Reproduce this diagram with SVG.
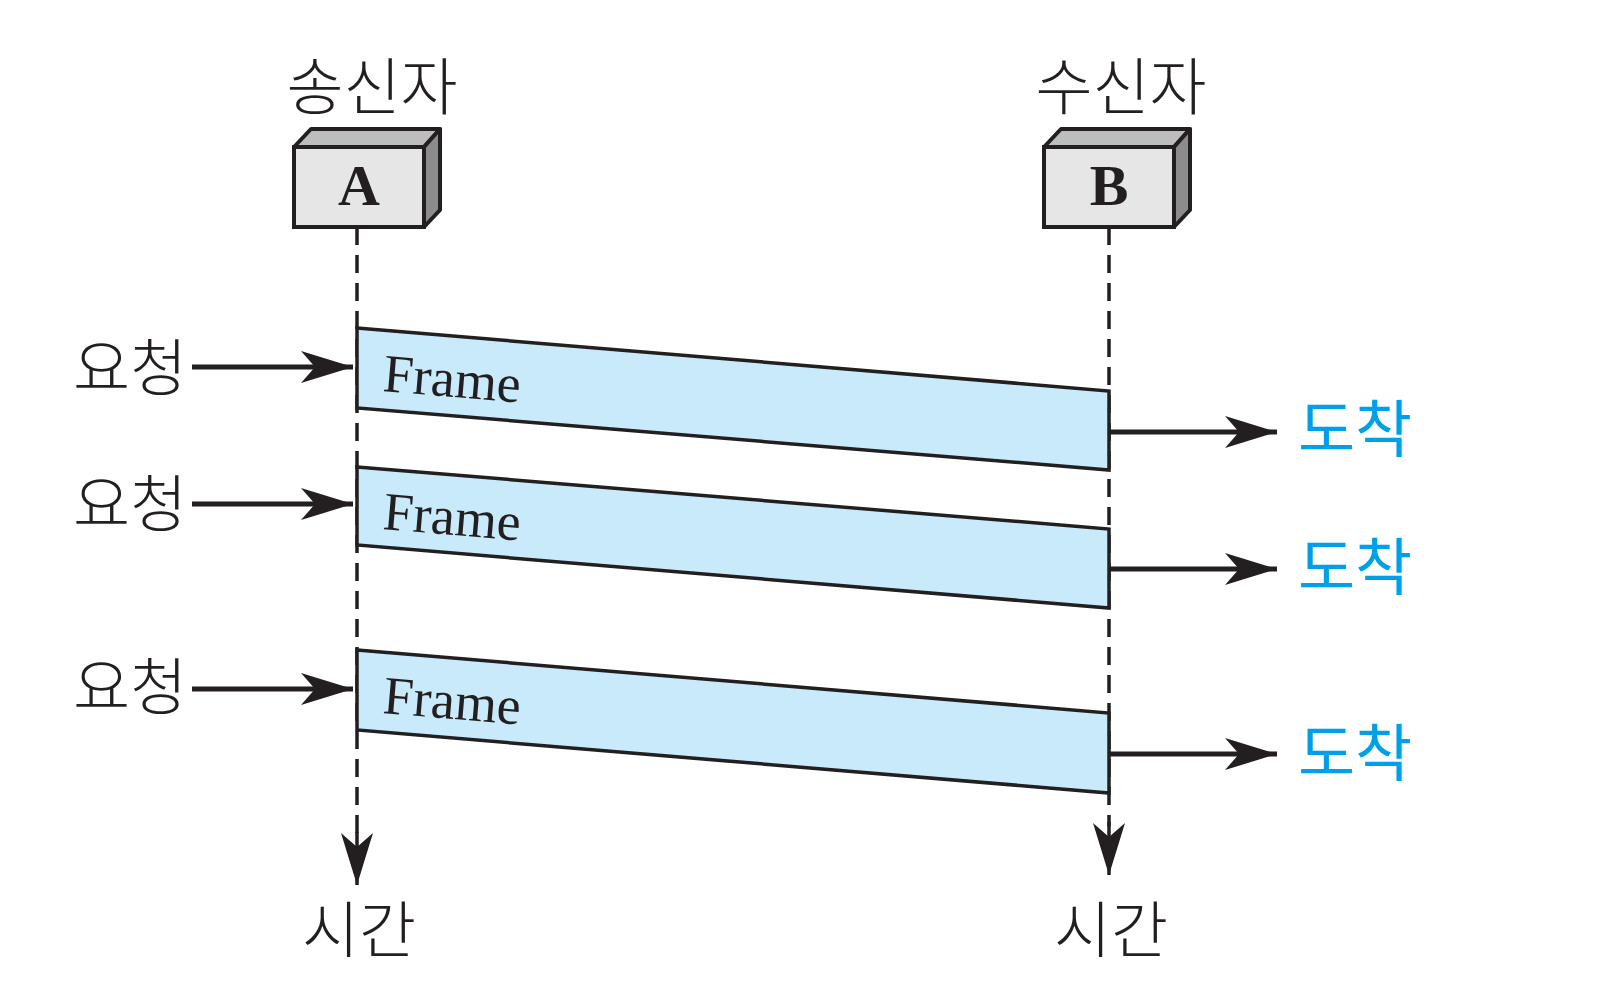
<svg xmlns="http://www.w3.org/2000/svg" width="1598" height="999" viewBox="0 0 1598 999">
<style>
.kr{font-family:"Noto Sans CJK KR","Noto Sans",sans-serif;font-size:62px;font-weight:300;fill:#231f20;text-anchor:middle}
.blue{fill:#00a0e9;font-weight:400}
.lbl{font-family:"Liberation Serif",serif;font-weight:bold;font-size:58px;fill:#231f20;text-anchor:middle}
.ft{font-family:"Liberation Serif",serif;font-size:54px;fill:#231f20}
.frame{fill:#c8eafa;stroke:#231f20;stroke-width:3.5;stroke-linejoin:miter}
.front{fill:#e6e6e6;stroke:#231f20;stroke-width:4}
.top{fill:#bdbdbd;stroke:#231f20;stroke-width:4;stroke-linejoin:round}
.side{fill:#8c8c8c;stroke:#231f20;stroke-width:4;stroke-linejoin:round}
.life{stroke:#231f20;stroke-width:3.5;stroke-dasharray:18 10;fill:none}
.arr{stroke:#231f20;stroke-width:5;fill:none;marker-end:url(#ah)}
.darr{stroke:#231f20;stroke-width:3.5;fill:none;marker-end:url(#ah)}
</style>
<defs>
<marker id="ah" markerUnits="userSpaceOnUse" viewBox="-54 -18 56 36" markerWidth="56" markerHeight="36" refX="0" refY="0" orient="auto">
<path d="M0,0 L-52,-16 L-38,0 L-52,16 Z" fill="#231f20"/>
</marker>
</defs>
<rect width="1598" height="999" fill="#ffffff"/>

<g id="lifelines">
<line class="life" x1="357" y1="227" x2="357" y2="836"/>
<line class="life" x1="1109" y1="227" x2="1109" y2="826"/>
<line class="darr" x1="357" y1="832" x2="357" y2="885"/>
<line class="darr" x1="1109" y1="822" x2="1109" y2="875"/>
</g>

<g id="nodeA">
<text class="kr" x="372" y="110">송신자</text>
<polygon class="top" points="294,147 311,129 440,129 424,147"/>
<polygon class="side" points="424,147 440,129 440,210 424,227"/>
<rect class="front" x="294" y="147" width="130" height="80"/>
<text class="lbl" x="359" y="205">A</text>
</g>

<g id="nodeB">
<text class="kr" x="1121" y="110">수신자</text>
<polygon class="top" points="1044,147 1061,129 1190,129 1174,147"/>
<polygon class="side" points="1174,147 1190,129 1190,210 1174,227"/>
<rect class="front" x="1044" y="147" width="130" height="80"/>
<text class="lbl" x="1109" y="205">B</text>
</g>

<g id="frame1">
<polygon class="frame" points="357,328 1109,391 1109,470 357,408"/>
<text class="ft" x="382" y="391" transform="rotate(4.8 382 391)">Frame</text>
</g>
<g id="frame2">
<polygon class="frame" points="357,467 1109,529 1109,608 357,545"/>
<text class="ft" x="382" y="529" transform="rotate(4.8 382 529)">Frame</text>
</g>
<g id="frame3">
<polygon class="frame" points="357,650 1109,713 1109,793 357,730"/>
<text class="ft" x="382" y="713" transform="rotate(4.8 382 713)">Frame</text>
</g>

<g id="connectors">
<line class="arr" x1="192" y1="367" x2="353" y2="367"/>
<line class="arr" x1="192" y1="504" x2="353" y2="504"/>
<line class="arr" x1="192" y1="689" x2="353" y2="689"/>
<line class="arr" x1="1109" y1="432" x2="1277" y2="432"/>
<line class="arr" x1="1109" y1="569" x2="1277" y2="569"/>
<line class="arr" x1="1109" y1="754" x2="1277" y2="754"/>
</g>

<g id="labels">
<text class="kr" x="130" y="391">요청</text>
<text class="kr" x="130" y="527">요청</text>
<text class="kr" x="130" y="710">요청</text>
<text class="kr blue" x="1355" y="452">도착</text>
<text class="kr blue" x="1355" y="590">도착</text>
<text class="kr blue" x="1355" y="776">도착</text>
<text class="kr" x="359" y="953">시간</text>
<text class="kr" x="1111" y="953">시간</text>
</g>
</svg>
